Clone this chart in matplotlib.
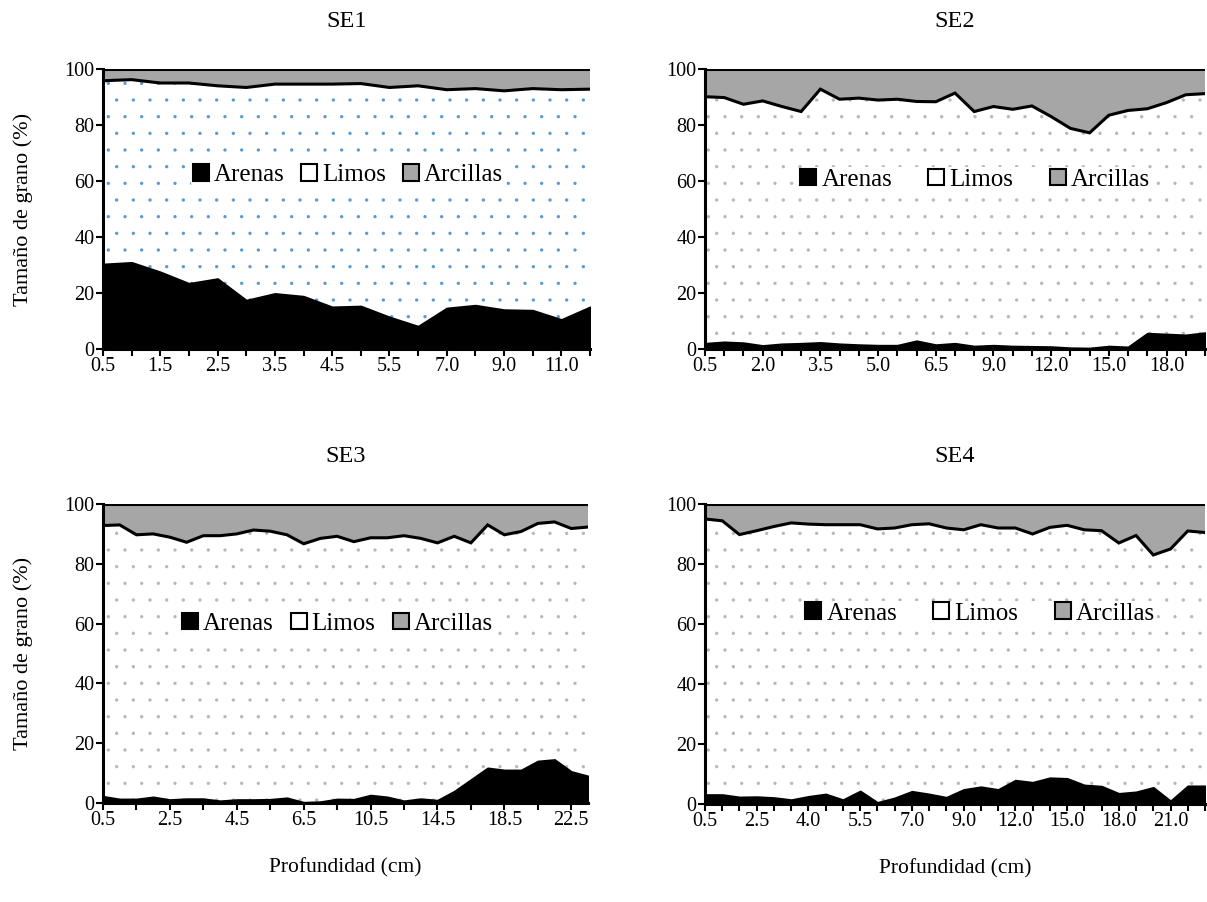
import numpy as np
import matplotlib
matplotlib.use("Agg")
import matplotlib.pyplot as plt
from matplotlib.patches import Patch

plt.rcParams['font.family'] = ['Liberation Serif', 'DejaVu Serif']
plt.rcParams['hatch.linewidth'] = 0.0

# ---- SE1 ----
se1_depth = ["0.5", "1.0", "1.5", "2.0", "2.5", "3.0", "3.5", "4.0", "4.5", "5.0",
             "5.5", "6.0", "7.0", "8.0", "9.0", "10.0", "11.0", "12.0"]
se1_arenas = [30.3, 30.9, 27.5, 23.4, 25.1, 17.4, 19.8, 18.8, 15.0, 15.3,
              11.4, 8.1, 14.6, 15.6, 14.0, 13.8, 10.5, 15.0]
se1_limos = [95.8, 96.2, 95.0, 95.0, 94.0, 93.4, 94.6, 94.6, 94.6, 94.8,
             93.4, 94.0, 92.6, 93.0, 92.2, 93.0, 92.6, 92.8]  # cumulative top of limos

# ---- SE2 ----
se2_depth = ["0.5", "1.0", "1.5", "2.0", "2.5", "3.0", "3.5", "4.0", "4.5", "5.0",
             "5.5", "6.0", "6.5", "7.0", "8.0", "9.0", "10.0", "11.0", "12.0", "13.0",
             "14.0", "15.0", "16.0", "17.0", "18.0", "19.0", "20.0"]
se2_arenas = [2.0, 2.5, 2.2, 1.2, 1.8, 2.0, 2.3, 1.8, 1.5, 1.3,
              1.3, 2.9, 1.5, 2.0, 1.0, 1.3, 1.0, 0.9, 0.8, 0.4,
              0.3, 1.0, 0.7, 5.6, 5.3, 5.0, 5.8]
se2_limos = [90.1, 89.8, 87.4, 88.6, 86.6, 84.8, 92.8, 89.2, 89.6, 88.9,
             89.2, 88.4, 88.3, 91.4, 84.8, 86.6, 85.6, 86.8, 83.0, 78.8,
             77.2, 83.5, 85.2, 85.8, 88.0, 90.8, 91.2]

# ---- SE3 ----
se3_depth = ["0.5", "1.0", "1.5", "2.0", "2.5", "3.0", "3.5", "4.0", "4.5", "5.0",
             "5.5", "6.0", "6.5", "7.5", "8.5", "9.5", "10.5", "11.5", "12.5", "13.5",
             "14.5", "15.5", "16.5", "17.5", "18.5", "19.5", "20.5", "21.5", "22.5", "23.5"]
se3_arenas = [2.2, 1.3, 1.3, 2.0, 1.1, 1.4, 1.4, 0.7, 1.1, 1.1,
              1.2, 1.7, 0.2, 0.4, 1.3, 1.2, 2.6, 2.0, 0.7, 1.4,
              0.9, 3.9, 7.8, 11.7, 11.0, 11.0, 14.0, 14.5, 10.5, 9.0]
se3_limos = [92.8, 93.0, 89.7, 90.0, 88.9, 87.2, 89.4, 89.4, 90.0, 91.3,
             90.9, 89.7, 86.7, 88.5, 89.2, 87.4, 88.7, 88.7, 89.4, 88.5,
             87.0, 89.2, 87.0, 93.0, 89.7, 90.8, 93.5, 94.0, 91.8, 92.3]

# ---- SE4 ----
se4_depth = ["0.5", "1.0", "2.0", "2.5", "3.0", "3.5", "4.0", "4.5", "5.0", "5.5",
             "6.0", "6.5", "7.0", "7.5", "8.0", "9.0", "10.0", "11.0", "12.0", "13.0",
             "14.0", "15.0", "16.0", "17.0", "18.0", "19.0", "20.0", "21.0", "22.0", "23.0"]
se4_arenas = [3.1, 3.1, 2.3, 2.4, 2.1, 1.4, 2.5, 3.3, 1.4, 4.3,
              0.5, 2.0, 4.2, 3.3, 2.2, 4.8, 5.7, 4.8, 7.9, 7.2,
              8.7, 8.5, 6.3, 5.9, 3.5, 4.0, 5.5, 1.0, 6.0, 6.0]
se4_limos = [95.0, 94.4, 89.8, 91.1, 92.5, 93.7, 93.3, 93.1, 93.1, 93.1,
             91.7, 92.0, 93.1, 93.4, 92.0, 91.4, 93.1, 92.0, 92.0, 90.0,
             92.2, 92.9, 91.4, 91.1, 87.0, 89.5, 83.0, 85.0, 91.0, 90.5]

series_names = ["Arenas", "Limos", "Arcillas"]
clay_color = "#a6a6a6"

W, H = 1207, 902
fig = plt.figure(figsize=(W / 100, H / 100), dpi=100)


def px_axes(x0, y0, x1, y1):
    return fig.add_axes([x0 / W, 1 - y1 / H, (x1 - x0) / W, (y1 - y0) / H])


panels = [
    dict(title="SE1", depth=se1_depth, ar=se1_arenas, li=se1_limos, tick=1, lab=2,
         box=(103, 69, 590, 349), dot="#5b9bd5", leg=(0.503, 0.62), gap=0.68),
    dict(title="SE2", depth=se2_depth, ar=se2_arenas, li=se2_limos, tick=1, lab=3,
         box=(705, 69, 1205, 349), dot="#b8b8b8", leg=(0.54, 0.605), gap=1.45),
    dict(title="SE3", depth=se3_depth, ar=se3_arenas, li=se3_limos, tick=2, lab=4,
         box=(103, 504, 588, 803), dot="#b8b8b8", leg=(0.483, 0.60), gap=0.68),
    dict(title="SE4", depth=se4_depth, ar=se4_arenas, li=se4_limos, tick=1, lab=3,
         box=(705, 504, 1205, 804), dot="#b8b8b8", leg=(0.55, 0.635), gap=1.45),
]

for i, p in enumerate(panels):
    ax = px_axes(*p["box"])
    n = len(p["depth"])
    x = np.arange(n)
    ar = np.array(p["ar"])
    li = np.array(p["li"])
    top = np.full(n, 100.0)

    # stacked areas: sand at the bottom, silt (dotted) in the middle, clay on top
    ax.fill_between(x, 0, ar, facecolor="black", edgecolor="black", linewidth=1.5, zorder=2)
    ax.fill_between(x, ar, li, facecolor="white", edgecolor=p["dot"], hatch=".",
                    linewidth=0, zorder=1)
    ax.fill_between(x, li, top, facecolor=clay_color, edgecolor="none", zorder=1)
    ax.plot(x, li, color="black", lw=2.2, zorder=3, solid_joinstyle="miter")
    ax.plot(x, top, color="black", lw=2.2, zorder=3)

    ax.set_xlim(0, n - 1)
    ax.set_ylim(0, 100)
    ax.set_yticks(np.arange(0, 101, 20))
    ticks = x[::p["tick"]]
    ax.set_xticks(ticks)
    ax.set_xticklabels([p["depth"][k] if k % p["lab"] == 0 else "" for k in ticks])
    ax.tick_params(axis="both", labelsize=14.5, direction="out", length=5, width=1.5,
                   colors="black", pad=1)
    for s in ("top", "right"):
        ax.spines[s].set_visible(False)
    for s in ("left", "bottom"):
        ax.spines[s].set_linewidth(2.2)
    ax.set_title(p["title"], fontsize=17.5, pad=30)

    handles = [Patch(facecolor="black", edgecolor="black", linewidth=1.5),
               Patch(facecolor="white", edgecolor="black", linewidth=1.5),
               Patch(facecolor=clay_color, edgecolor="black", linewidth=1.5)]
    ax.legend(handles, series_names, loc="center", bbox_to_anchor=p["leg"], ncol=3,
              frameon=True, framealpha=1.0, edgecolor="none", fontsize=18,
              handlelength=0.64, handleheight=0.64, handletextpad=0.2,
              columnspacing=p["gap"], borderpad=0.05, borderaxespad=0)

    if i % 2 == 0:
        ax.set_ylabel("Tamaño de grano (%)", fontsize=16, labelpad=23)
    if i >= 2:
        ax.set_xlabel("Profundidad (cm)", fontsize=15.5, labelpad=20)

fig.savefig("out.png", dpi=100)
